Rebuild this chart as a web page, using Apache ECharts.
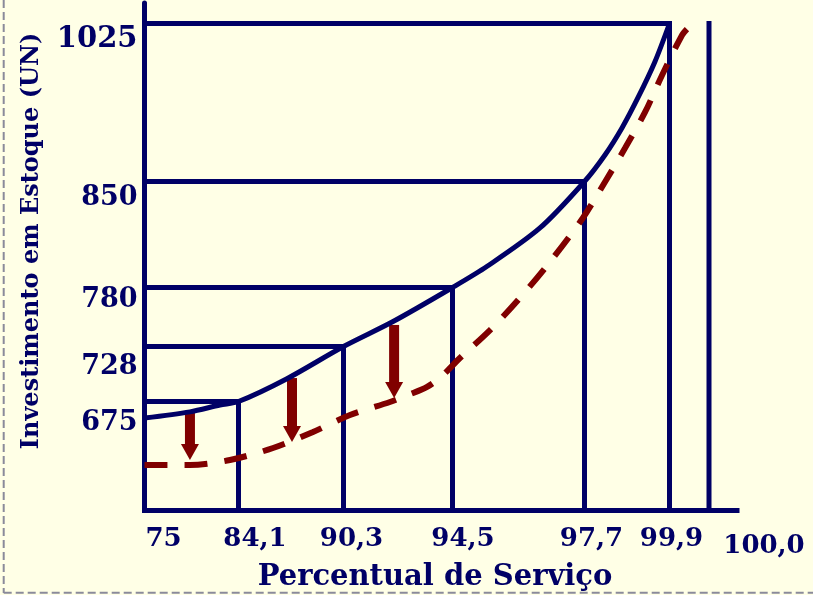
<!DOCTYPE html>
<html><head><meta charset="utf-8">
<script src="https://cdn.jsdelivr.net/npm/echarts@6/dist/echarts.min.js"></script>
<style>html,body{margin:0;padding:0;background:#FFFFE6}#chart{width:813px;height:595px}</style>
</head><body><div id="chart"></div>
<script>
// ---------- data ----------
const xTickValues = [75, 84.1, 90.3, 94.5, 97.7, 99.9, 100.0];
const xTickLabels = ['75', '84,1', '90,3', '94,5', '97,7', '99,9', '100,0'];
const yTickValues = [675, 728, 780, 850, 1025];
const yTickLabels = ['675', '728', '780', '850', '1025'];

const serviceLevels   = [84.1, 90.3, 94.5, 97.7, 99.9];
const stockInvestment = [675, 728, 780, 850, 1025];
const limitService = 100.0;
const limitInvestment = 1025;

const currentService    = [75, 79.40, 82.31, 84.1, 86.96, 90.3, 92.21, 94.5, 95.34, 96.62, 97.7, 98.23, 98.67, 99.08, 99.52, 99.9];
const currentInvestment = [659, 665, 671.6, 675, 697, 728, 750, 780, 794, 819.3, 850, 879.4, 909.3, 942.5, 982.4, 1025];

const improvedService    = [75, 79.40, 83.28, 86.14, 88.50, 90.55, 92.09, 92.79, 93.52, 94.13, 94.68, 95.41, 96.09, 96.86, 97.66, 98.23, 98.75, 99.27, 99.71, 99.932, 99.947];
const improvedInvestment = [613.8, 613.8, 618.6, 630.2, 645.6, 662.0, 674.5, 681.3, 689.0, 700.5, 716.9, 742.5, 769.0, 796.8, 825.9, 849.7, 887.1, 927.0, 968.0, 1012.3, 1020.0];

const arrowService = [79.40, 87.26, 92.25];
const arrowFrom    = [663.9, 697.6, 747.0];
const arrowTo      = [618.6, 636.0, 678.4];

// ---------- schematic (non-linear) axis scales ----------
const xScale = { breaks: xTickValues, pos: [0, 94, 199, 308, 440, 525, 564.5], max: 592.5 };
const yScale = { breaks: yTickValues, pos: [109, 164, 223, 329, 487], max: 507.5 };

function piecewise(scale, v) {
  const b = scale.breaks, p = scale.pos, n = b.length;
  let i;
  if (v <= b[0]) i = 0;
  else if (v >= b[n - 1]) i = n - 2;
  else { i = 0; while (v > b[i + 1]) i++; }
  return p[i] + (v - b[i]) * (p[i + 1] - p[i]) / (b[i + 1] - b[i]);
}
const xPos = v => piecewise(xScale, v);
const yPos = v => piecewise(yScale, v);

// ---------- styles ----------
const NAVY = '#000066', RED = '#800000', BG = '#FFFFE6';
const FONT = '"DejaVu Serif", "Liberation Serif", serif';
const xShift = [19, 16.5, 8, 10.5, 7, 2, 55];
const xDrop  = [0, 0, 0, 0, 0, 0, 6.5];
const yDrop  = [21.5, 20.5, 12.5, 16.5, 15.5];

const xRich = {}, yRich = {};
xTickLabels.forEach((_, i) => { xRich['x' + i] = { padding: [xDrop[i], 0, 0, 2 * xShift[i]] }; });
yTickLabels.forEach((_, i) => { yRich['y' + i] = { padding: [2 * yDrop[i], 0, 0, 0], fontSize: i === 4 ? 29 : 27 }; });

function findTick(vals, posFn, v) {
  let best = 0, d = Infinity;
  vals.forEach((t, i) => { const dd = Math.abs(posFn(t) - v); if (dd < d) { d = dd; best = i; } });
  return best;
}

const refData = serviceLevels.map((s, i) => [xPos(s), yPos(stockInvestment[i]), 1]);
refData.push([xPos(limitService), yPos(limitInvestment), 0]);

const chart = echarts.init(document.getElementById('chart'));
chart.setOption({
  backgroundColor: BG,
  animation: false,
  grid: { left: 144.5, right: 76, top: 3, bottom: 84.5, containLabel: false },
  xAxis: {
    type: 'value', min: 0, max: xScale.max,
    axisLine: { onZero: false, lineStyle: { color: NAVY, width: 5, cap: 'square' } },
    axisTick: { show: false }, splitLine: { show: false },
    axisLabel: {
      customValues: xTickValues.map(xPos),
      margin: 16, color: NAVY, fontFamily: FONT, fontWeight: 'bold', fontSize: 26,
      formatter: v => { const i = findTick(xTickValues, xPos, v); return '{x' + i + '|' + xTickLabels[i] + '}'; },
      rich: xRich
    }
  },
  yAxis: {
    type: 'value', min: 0, max: yScale.max,
    axisLine: { show: true, onZero: false, lineStyle: { color: NAVY, width: 5 } },
    axisTick: { show: false }, splitLine: { show: false },
    axisLabel: {
      customValues: yTickValues.map(yPos),
      margin: 7, color: NAVY, fontFamily: FONT, fontWeight: 'bold', fontSize: 27,
      formatter: v => { const i = findTick(yTickValues, yPos, v); return '{y' + i + '|' + yTickLabels[i] + '}'; },
      rich: yRich
    }
  },
  graphic: [
    { type: 'text', x: 435, y: 577, style: { text: 'Percentual de Serviço', font: 'bold 29px ' + FONT, fill: NAVY, align: 'center', verticalAlign: 'middle' } },
    { type: 'text', x: 32, y: 241, rotation: Math.PI / 2, style: { text: 'Investimento em Estoque (UN)', font: 'bold 24px ' + FONT, fill: NAVY, align: 'center', verticalAlign: 'middle' } },
    { type: 'line', shape: { x1: 3.7, y1: 0, x2: 3.7, y2: 593 }, style: { stroke: '#8a8a9a', lineWidth: 2, lineDash: [8, 4] } },
    { type: 'line', shape: { x1: 3.7, y1: 592.8, x2: 813, y2: 592.8 }, style: { stroke: '#8a8a9a', lineWidth: 2, lineDash: [8, 4] } }
  ],
  series: [
    {
      type: 'custom', clip: false, silent: true,
      data: refData,
      renderItem: (params, api) => {
        const p = api.coord([api.value(0), api.value(1)]);
        const o = api.coord([0, 0]);
        const st = { stroke: NAVY, lineWidth: 5, lineCap: 'square' };
        const children = [{ type: 'line', shape: { x1: p[0], y1: o[1], x2: p[0], y2: p[1] }, style: st }];
        if (api.value(2)) children.push({ type: 'line', shape: { x1: o[0], y1: p[1], x2: p[0], y2: p[1] }, style: st });
        return { type: 'group', children };
      }
    },
    {
      type: 'line', silent: true, showSymbol: false, smooth: 0.3,
      data: currentService.map((s, i) => [xPos(s), yPos(currentInvestment[i])]),
      lineStyle: { color: NAVY, width: 5 }
    },
    {
      type: 'line', silent: true, showSymbol: false, smooth: 0.3,
      data: improvedService.map((s, i) => [xPos(s), yPos(improvedInvestment[i])]),
      lineStyle: { color: RED, width: 6, type: [23, 17] }
    },
    {
      type: 'custom', clip: false, silent: true,
      data: arrowService.map((s, i) => [xPos(s), yPos(arrowFrom[i]), yPos(arrowTo[i])]),
      renderItem: (params, api) => {
        const top = api.coord([api.value(0), api.value(1)]);
        const tip = api.coord([api.value(0), api.value(2)]);
        const hl = 16, hw = 9, sw = 5;
        const x = top[0];
        return {
          type: 'group', children: [
            { type: 'rect', shape: { x: x - sw, y: top[1], width: 2 * sw, height: tip[1] - hl - top[1] + 1 }, style: { fill: RED } },
            { type: 'polygon', shape: { points: [[x - hw, tip[1] - hl], [x + hw, tip[1] - hl], [x, tip[1]]] }, style: { fill: RED } }
          ]
        };
      }
    }
  ]
});
</script></body></html>
